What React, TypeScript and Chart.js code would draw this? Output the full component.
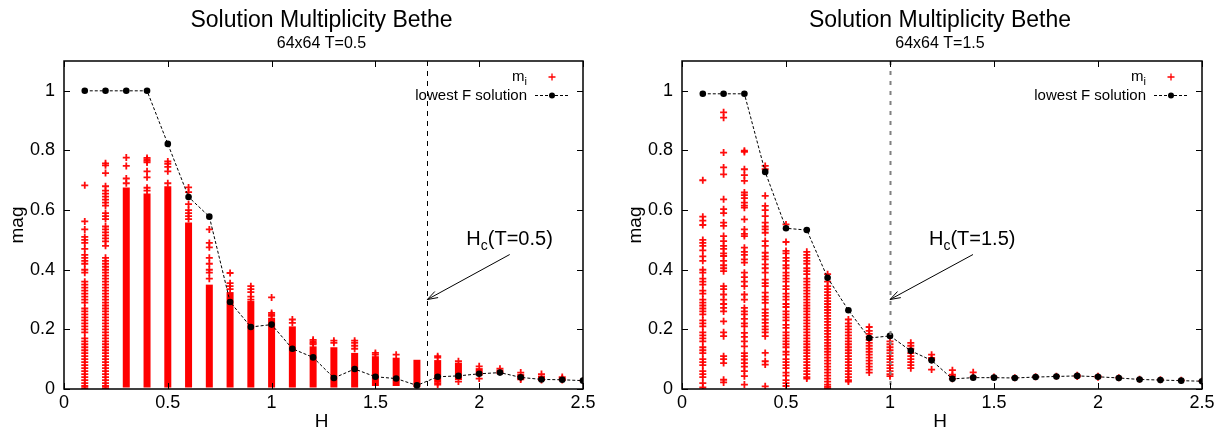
import React, { useEffect, useRef } from 'react';
import { Chart, registerables } from 'chart.js';

Chart.register(...registerables);

const FONT = '"Liberation Sans", Arial, Helvetica, sans-serif';

// ---- shared axis data ----
const H_VALUES = [0.1, 0.2, 0.3, 0.4, 0.5, 0.6, 0.7, 0.8, 0.9, 1.0, 1.1, 1.2, 1.3, 1.4, 1.5, 1.6, 1.7, 1.8, 1.9, 2.0, 2.1, 2.2, 2.3, 2.4, 2.5];
const X_TICKS = [0, 0.5, 1, 1.5, 2, 2.5];
const X_TICK_LABELS = ['0', '0.5', '1', '1.5', '2', '2.5'];
const Y_TICKS = [0, 0.2, 0.4, 0.6, 0.8, 1];
const Y_TICK_LABELS = ['0', '0.2', '0.4', '0.6', '0.8', '1'];

// ---- T = 0.5 ----
const LOWEST_F_T05 = [1.0, 1.0, 1.0, 1.0, 0.822, 0.644, 0.578, 0.292, 0.208, 0.216, 0.135, 0.106, 0.037, 0.067, 0.041, 0.035, 0.012, 0.041, 0.044, 0.051, 0.055, 0.039, 0.032, 0.031, 0.028];

const MI_T05: number[][] = [
  [0.683, 0.562, 0.535, 0.51, 0.5, 0.49, 0.47, 0.45, 0.44, 0.43, 0.42, 0.4, 0.39, 0.36, 0.35, 0.34, 0.33, 0.32, 0.31, 0.3, 0.29, 0.27, 0.26, 0.25, 0.24, 0.23, 0.22, 0.21, 0.2, 0.19, 0.17, 0.16, 0.15, 0.14, 0.13, 0.12, 0.11, 0.1, 0.09, 0.08, 0.07, 0.06, 0.05, 0.04, 0.03, 0.02, 0.01, 0.003],
  [0.757, 0.75, 0.724, 0.68, 0.665, 0.655, 0.645, 0.635, 0.625, 0.615, 0.59, 0.58, 0.57, 0.545, 0.535, 0.525, 0.515, 0.505, 0.495, 0.48, 0.44, 0.43, 0.42, 0.41, 0.4, 0.39, 0.38, 0.37, 0.36, 0.35, 0.34, 0.33, 0.32, 0.31, 0.3, 0.29, 0.28, 0.27, 0.26, 0.25, 0.24, 0.23, 0.22, 0.21, 0.2, 0.19, 0.18, 0.17, 0.16, 0.15, 0.14, 0.13, 0.12, 0.11, 0.1, 0.09, 0.08, 0.07, 0.06, 0.05, 0.04, 0.03, 0.02, 0.01, 0.003],
  [0.776, 0.748, 0.706, 0.69],
  [0.775, 0.77, 0.765, 0.76, 0.73, 0.71, 0.675, 0.665],
  [0.763, 0.755, 0.745, 0.73, 0.69],
  [0.676, 0.66, 0.62, 0.6, 0.59, 0.58, 0.57],
  [0.535, 0.49, 0.475, 0.44, 0.42, 0.4, 0.39, 0.37],
  [0.389, 0.355, 0.345, 0.335],
  [0.345, 0.335, 0.325, 0.31, 0.3],
  [0.307, 0.255, 0.25, 0.245],
  [0.233, 0.222],
  [0.165, 0.16, 0.155, 0.15],
  [0.162, 0.155],
  [0.162, 0.155, 0.145, 0.135],
  [0.121, 0.115],
  [0.115],
  [],
  [0.11, 0.105, 0.02, 0.015],
  [0.093, 0.025],
  [0.076, 0.035],
  [0.068],
  [0.055, 0.036, 0.032],
  [0.05, 0.03],
  [0.04, 0.035, 0.03],
  [0.028],
];

// dense (solid-looking) stacks of m_i, low and high ends per H
const BAND_LO_T05 = [null, null, 0.005, 0.005, 0.005, 0.005, 0.005, 0.005, 0.005, 0.005, 0.005, 0.005, 0.005, 0.005, 0.01, 0.01, 0.006, 0.022, 0.03, 0.045, 0.05, 0.04, 0.033, null, null];
const BAND_HI_T05 = [null, null, 0.676, 0.656, 0.68, 0.558, 0.35, 0.325, 0.295, 0.239, 0.21, 0.143, 0.14, 0.121, 0.11, 0.105, 0.098, 0.097, 0.088, 0.07, 0.065, 0.05, 0.045, null, null];

// ---- T = 1.5 ----
const LOWEST_F_T15 = [0.99, 0.99, 0.99, 0.728, 0.539, 0.533, 0.373, 0.264, 0.171, 0.178, 0.128, 0.096, 0.034, 0.038, 0.038, 0.037, 0.04, 0.042, 0.044, 0.041, 0.037, 0.032, 0.03, 0.028, 0.026];

const MI_T15: number[][] = [
  [0.7, 0.578, 0.565, 0.55, 0.5, 0.49, 0.48, 0.465, 0.445, 0.43, 0.4, 0.39, 0.37, 0.36, 0.35, 0.33, 0.32, 0.3, 0.29, 0.28, 0.27, 0.26, 0.25, 0.23, 0.22, 0.21, 0.19, 0.18, 0.17, 0.16, 0.14, 0.13, 0.12, 0.1, 0.09, 0.08, 0.06, 0.05, 0.04, 0.02, 0.005],
  [0.928, 0.91, 0.793, 0.743, 0.72, 0.636, 0.603, 0.59, 0.558, 0.547, 0.513, 0.496, 0.48, 0.47, 0.455, 0.446, 0.43, 0.415, 0.405, 0.395, 0.345, 0.335, 0.317, 0.3, 0.285, 0.272, 0.26, 0.227, 0.19, 0.177, 0.11, 0.1, 0.087, 0.031, 0.022],
  [0.799, 0.795, 0.737, 0.717, 0.698, 0.659, 0.65, 0.64, 0.625, 0.615, 0.608, 0.569, 0.535, 0.52, 0.513, 0.474, 0.46, 0.45, 0.435, 0.424, 0.39, 0.375, 0.36, 0.345, 0.317, 0.3, 0.272, 0.26, 0.25, 0.235, 0.22, 0.21, 0.188, 0.175, 0.16, 0.143, 0.12, 0.11, 0.099, 0.087, 0.075, 0.06, 0.043, 0.015],
  [0.748, 0.737, 0.648, 0.614, 0.6, 0.58, 0.558, 0.545, 0.535, 0.524, 0.496, 0.48, 0.457, 0.445, 0.435, 0.418, 0.405, 0.39, 0.367, 0.355, 0.345, 0.323, 0.31, 0.3, 0.289, 0.267, 0.255, 0.245, 0.233, 0.222, 0.21, 0.2, 0.19, 0.177, 0.121, 0.093, 0.082, 0.009],
  [0.552, 0.493, 0.463, 0.455, 0.44, 0.43, 0.415, 0.405, 0.39, 0.38, 0.37, 0.36, 0.345, 0.335, 0.32, 0.31, 0.3, 0.285, 0.275, 0.26, 0.25, 0.24, 0.23, 0.215, 0.205, 0.19, 0.18, 0.17, 0.16, 0.15, 0.14, 0.125, 0.115, 0.1, 0.09, 0.08, 0.07, 0.055, 0.045, 0.03, 0.02, 0.01],
  [0.46, 0.45, 0.44, 0.43, 0.42, 0.405, 0.395, 0.385, 0.37, 0.36, 0.35, 0.34, 0.33, 0.32, 0.31, 0.3, 0.29, 0.28, 0.27, 0.26, 0.25, 0.24, 0.23, 0.22, 0.21, 0.2, 0.19, 0.18, 0.17, 0.16, 0.15, 0.14, 0.13, 0.12, 0.11, 0.1, 0.09, 0.08, 0.07, 0.06, 0.05, 0.04, 0.035],
  [0.385, 0.36, 0.345, 0.335, 0.325, 0.315, 0.305, 0.295, 0.285, 0.275, 0.265, 0.255, 0.245, 0.235, 0.225, 0.215, 0.205, 0.195, 0.185, 0.175, 0.165, 0.155, 0.145, 0.135, 0.125, 0.115, 0.105, 0.095, 0.085, 0.075, 0.065, 0.055, 0.045, 0.035, 0.025, 0.015, 0.008, 0.003],
  [0.233, 0.22, 0.21, 0.2, 0.19, 0.18, 0.17, 0.16, 0.15, 0.14, 0.13, 0.12, 0.11, 0.1, 0.09, 0.08, 0.07, 0.06, 0.05, 0.04, 0.03, 0.025],
  [0.208, 0.195, 0.185, 0.175, 0.165, 0.155, 0.145, 0.135, 0.125, 0.115, 0.105, 0.095, 0.085, 0.075, 0.065, 0.055],
  [0.16, 0.15, 0.14, 0.13, 0.12, 0.11, 0.1, 0.09, 0.08, 0.07, 0.06, 0.05, 0.043],
  [0.155, 0.145, 0.135, 0.12, 0.11, 0.1, 0.09, 0.08, 0.07],
  [0.115, 0.104, 0.098, 0.065],
  [0.063, 0.048, 0.043, 0.034],
  [0.056, 0.04],
  [0.04],
  [0.038],
  [0.041],
  [0.043],
  [0.046, 0.042],
  [0.043, 0.039],
  [0.038],
  [0.033],
  [0.031],
  [0.029],
  [0.027],
];
const BAND_LO_T15 = H_VALUES.map(() => null);
const BAND_HI_T15 = H_VALUES.map(() => null);

type PanelProps = {
  title: string;
  subtitle: string;
  lowestF: number[];
  mi: number[][];
  bandLo: (number | null)[];
  bandHi: (number | null)[];
  hc: number;
  hcT: string;
  hcColor: string;
  hcWidth: number;
  hcDash: number[];
  arrowTail: [number, number];
  labelPos: [number, number];
  canvasWidth: number;
  left: number;
  plotLeft: number;
  plotRight: number;
};

function drawSub(ctx: CanvasRenderingContext2D, parts: { t: string; size: number; dy: number }[], x: number, y: number, align: 'left' | 'right') {
  let total = 0;
  const widths = parts.map((p) => {
    ctx.font = `${p.size}px ${FONT}`;
    const w = ctx.measureText(p.t).width;
    total += w;
    return w;
  });
  let cx = align === 'right' ? x - total : x;
  ctx.textAlign = 'left';
  ctx.textBaseline = 'alphabetic';
  parts.forEach((p, i) => {
    ctx.font = `${p.size}px ${FONT}`;
    ctx.fillText(p.t, cx, y + p.dy);
    cx += widths[i];
  });
}

function Panel(props: PanelProps) {
  const ref = useRef<HTMLCanvasElement | null>(null);
  useEffect(() => {
    const canvas = ref.current;
    if (!canvas) return;
    const p = props;

    const linePts = H_VALUES.map((h, i) => ({ x: h, y: p.lowestF[i] }));
    const miPts: { x: number; y: number }[] = [];
    H_VALUES.forEach((h, i) => p.mi[i].forEach((v) => miPts.push({ x: h, y: v })));
    const bandPts: { x: number; y: [number, number] }[] = [];
    H_VALUES.forEach((h, i) => {
      const lo = p.bandLo[i];
      const hi = p.bandHi[i];
      if (lo != null && hi != null) bandPts.push({ x: h, y: [lo, hi] });
    });

    const decor = {
      id: 'decor',
      afterDraw(chart: any) {
        const ctx: CanvasRenderingContext2D = chart.ctx;
        const a = chart.chartArea;
        const xs = chart.scales.x;
        const ys = chart.scales.y;
        ctx.save();
        ctx.fillStyle = '#000';
        ctx.strokeStyle = '#000';

        // Hc vertical dashed line
        ctx.save();
        ctx.strokeStyle = p.hcColor;
        ctx.lineWidth = p.hcWidth;
        ctx.setLineDash(p.hcDash);
        const hx = Math.round(xs.getPixelForValue(p.hc)) + 0.5;
        ctx.beginPath();
        ctx.moveTo(hx, a.top);
        ctx.lineTo(hx, a.bottom);
        ctx.stroke();
        ctx.restore();

        // arrow
        const tx = xs.getPixelForValue(p.arrowTail[0]);
        const ty = ys.getPixelForValue(p.arrowTail[1]);
        const ax = xs.getPixelForValue(p.hc);
        const ay = ys.getPixelForValue(0.3);
        ctx.lineWidth = 1;
        ctx.setLineDash([]);
        ctx.beginPath();
        ctx.moveTo(tx, ty);
        ctx.lineTo(ax, ay);
        const ang = Math.atan2(ay - ty, ax - tx);
        const hl = 11;
        const spread = 0.32;
        ctx.moveTo(ax - hl * Math.cos(ang - spread), ay - hl * Math.sin(ang - spread));
        ctx.lineTo(ax, ay);
        ctx.lineTo(ax - hl * Math.cos(ang + spread), ay - hl * Math.sin(ang + spread));
        ctx.stroke();

        // Hc label
        drawSub(
          ctx,
          [
            { t: 'H', size: 20, dy: 0 },
            { t: 'c', size: 14, dy: 5 },
            { t: `(T=${p.hcT})`, size: 20, dy: 0 },
          ],
          xs.getPixelForValue(p.labelPos[0]),
          ys.getPixelForValue(p.labelPos[1]),
          'left'
        );

        // frame
        ctx.lineWidth = 1.5;
        ctx.strokeRect(a.left, a.top, a.right - a.left, a.bottom - a.top);
        // inward ticks
        ctx.lineWidth = 1;
        ctx.beginPath();
        const tl = 6;
        X_TICKS.forEach((v) => {
          const x = Math.round(xs.getPixelForValue(v)) + 0.5;
          ctx.moveTo(x, a.bottom);
          ctx.lineTo(x, a.bottom - tl);
          ctx.moveTo(x, a.top);
          ctx.lineTo(x, a.top + tl);
        });
        Y_TICKS.forEach((v) => {
          const y = Math.round(ys.getPixelForValue(v)) + 0.5;
          ctx.moveTo(a.left, y);
          ctx.lineTo(a.left + tl, y);
          ctx.moveTo(a.right, y);
          ctx.lineTo(a.right - tl, y);
        });
        ctx.stroke();

        // titles
        const cx = (a.left + a.right) / 2 - 2;
        ctx.textAlign = 'center';
        ctx.textBaseline = 'alphabetic';
        ctx.font = `23px ${FONT}`;
        ctx.fillText(p.title, cx, 27);
        ctx.font = `16px ${FONT}`;
        ctx.fillText(p.subtitle, cx, 48);

        // axis titles
        ctx.font = `19px ${FONT}`;
        ctx.fillText('H', cx, 427);
        ctx.save();
        ctx.translate(a.left - 46.5, (a.top + a.bottom) / 2);
        ctx.rotate(-Math.PI / 2);
        ctx.textBaseline = 'middle';
        ctx.fillText('mag', 0, 0);
        ctx.restore();

        // legend
        const lx = a.right - 56;
        ctx.fillStyle = '#000';
        drawSub(
          ctx,
          [
            { t: 'm', size: 15, dy: 0 },
            { t: 'i', size: 11, dy: 4 },
          ],
          lx,
          81,
          'right'
        );
        ctx.font = `15px ${FONT}`;
        ctx.textAlign = 'right';
        ctx.fillText('lowest F solution', lx, 100);
        // legend cross
        const crx = a.right - 31;
        ctx.strokeStyle = '#ff0000';
        ctx.lineWidth = 1.3;
        ctx.beginPath();
        ctx.moveTo(crx - 3.5, 77);
        ctx.lineTo(crx + 3.5, 77);
        ctx.moveTo(crx, 73.5);
        ctx.lineTo(crx, 80.5);
        ctx.stroke();
        // legend line sample
        ctx.strokeStyle = '#000';
        ctx.lineWidth = 1;
        ctx.setLineDash([3, 2]);
        ctx.beginPath();
        ctx.moveTo(a.right - 48, 95.5);
        ctx.lineTo(a.right - 15, 95.5);
        ctx.stroke();
        ctx.setLineDash([]);
        ctx.beginPath();
        ctx.arc(a.right - 31, 95.5, 3, 0, Math.PI * 2);
        ctx.fillStyle = '#000';
        ctx.fill();
        ctx.restore();
      },
    };

    const chart = new Chart(canvas, {
      type: 'scatter',
      data: {
        datasets: [
          {
            type: 'line',
            label: 'lowest F solution',
            data: linePts,
            borderColor: '#000',
            borderWidth: 1,
            borderDash: [3, 2],
            pointRadius: 3.3,
            pointHoverRadius: 3.3,
            pointBackgroundColor: '#000',
            pointBorderColor: '#000',
            pointBorderWidth: 0,
            showLine: true,
            fill: false,
            tension: 0,
            order: 0,
          } as any,
          {
            type: 'scatter',
            label: 'm_i',
            data: miPts,
            pointStyle: 'cross',
            pointRadius: 3.5,
            pointHoverRadius: 3.5,
            borderColor: 'rgba(255,0,0,0.95)',
            borderWidth: 1.8,
            order: 1,
          } as any,
          {
            type: 'bar',
            label: 'm_i dense',
            data: bandPts,
            backgroundColor: '#ff0000',
            borderWidth: 0,
            barThickness: 7,
            maxBarThickness: 7,
            inflateAmount: 0,
            grouped: false,
            order: 2,
          } as any,
        ],
      },
      options: {
        animation: false,
        responsive: false,
        maintainAspectRatio: false,
        events: [],
        layout: { padding: { top: 61, right: p.canvasWidth - p.plotRight, left: 0, bottom: 0 } },
        plugins: {
          legend: { display: false },
          tooltip: { enabled: false },
          title: { display: false },
        },
        scales: {
          x: {
            type: 'linear',
            min: 0,
            max: 2.5,
            offset: false,
            grid: { display: false, drawTicks: false },
            border: { display: false },
            afterBuildTicks: (s: any) => {
              s.ticks = X_TICKS.map((v) => ({ value: v }));
            },
            ticks: {
              autoSkip: false,
              maxRotation: 0,
              padding: 3,
              color: '#000',
              font: { family: FONT, size: 18 },
              callback: (v: any) => X_TICK_LABELS[X_TICKS.indexOf(Number(v))] ?? '',
            },
            afterFit: (s: any) => {
              s.height = 40;
            },
          },
          y: {
            type: 'linear',
            min: 0,
            max: 1.1,
            grid: { display: false, drawTicks: false },
            border: { display: false },
            afterBuildTicks: (s: any) => {
              s.ticks = Y_TICKS.map((v) => ({ value: v }));
            },
            ticks: {
              autoSkip: false,
              padding: 9,
              color: '#000',
              font: { family: FONT, size: 18 },
              callback: (v: any) => Y_TICK_LABELS[Y_TICKS.indexOf(Number(v))] ?? '',
            },
            afterFit: (s: any) => {
              s.width = p.plotLeft;
            },
          },
        },
      } as any,
      plugins: [decor],
    });
    return () => chart.destroy();
  }, []);

  return (
    <canvas
      ref={ref}
      width={props.canvasWidth}
      height={429}
      style={{ position: 'absolute', left: props.left, top: 0, width: props.canvasWidth, height: 429 }}
    />
  );
}

export default function App() {
  return (
    <div style={{ position: 'fixed', left: 0, top: 0, width: 1227, height: 429, background: '#fff', overflow: 'hidden' }}>
      <Panel
        title="Solution Multiplicity Bethe"
        subtitle="64x64 T=0.5"
        lowestF={LOWEST_F_T05}
        mi={MI_T05}
        bandLo={BAND_LO_T05}
        bandHi={BAND_HI_T05}
        hc={1.75}
        hcT="0.5"
        hcColor="#000"
        hcWidth={1}
        hcDash={[5, 5]}
        arrowTail={[2.147, 0.451]}
        labelPos={[1.938, 0.482]}
        canvasWidth={614}
        left={0}
        plotLeft={64}
        plotRight={583}
      />
      <Panel
        title="Solution Multiplicity Bethe"
        subtitle="64x64 T=1.5"
        lowestF={LOWEST_F_T15}
        mi={MI_T15}
        bandLo={BAND_LO_T15}
        bandHi={BAND_HI_T15}
        hc={1.0}
        hcT="1.5"
        hcColor="#808080"
        hcWidth={2}
        hcDash={[4, 6]}
        arrowTail={[1.399, 0.451]}
        labelPos={[1.1875, 0.482]}
        canvasWidth={613}
        left={614}
        plotLeft={68}
        plotRight={588}
      />
    </div>
  );
}
